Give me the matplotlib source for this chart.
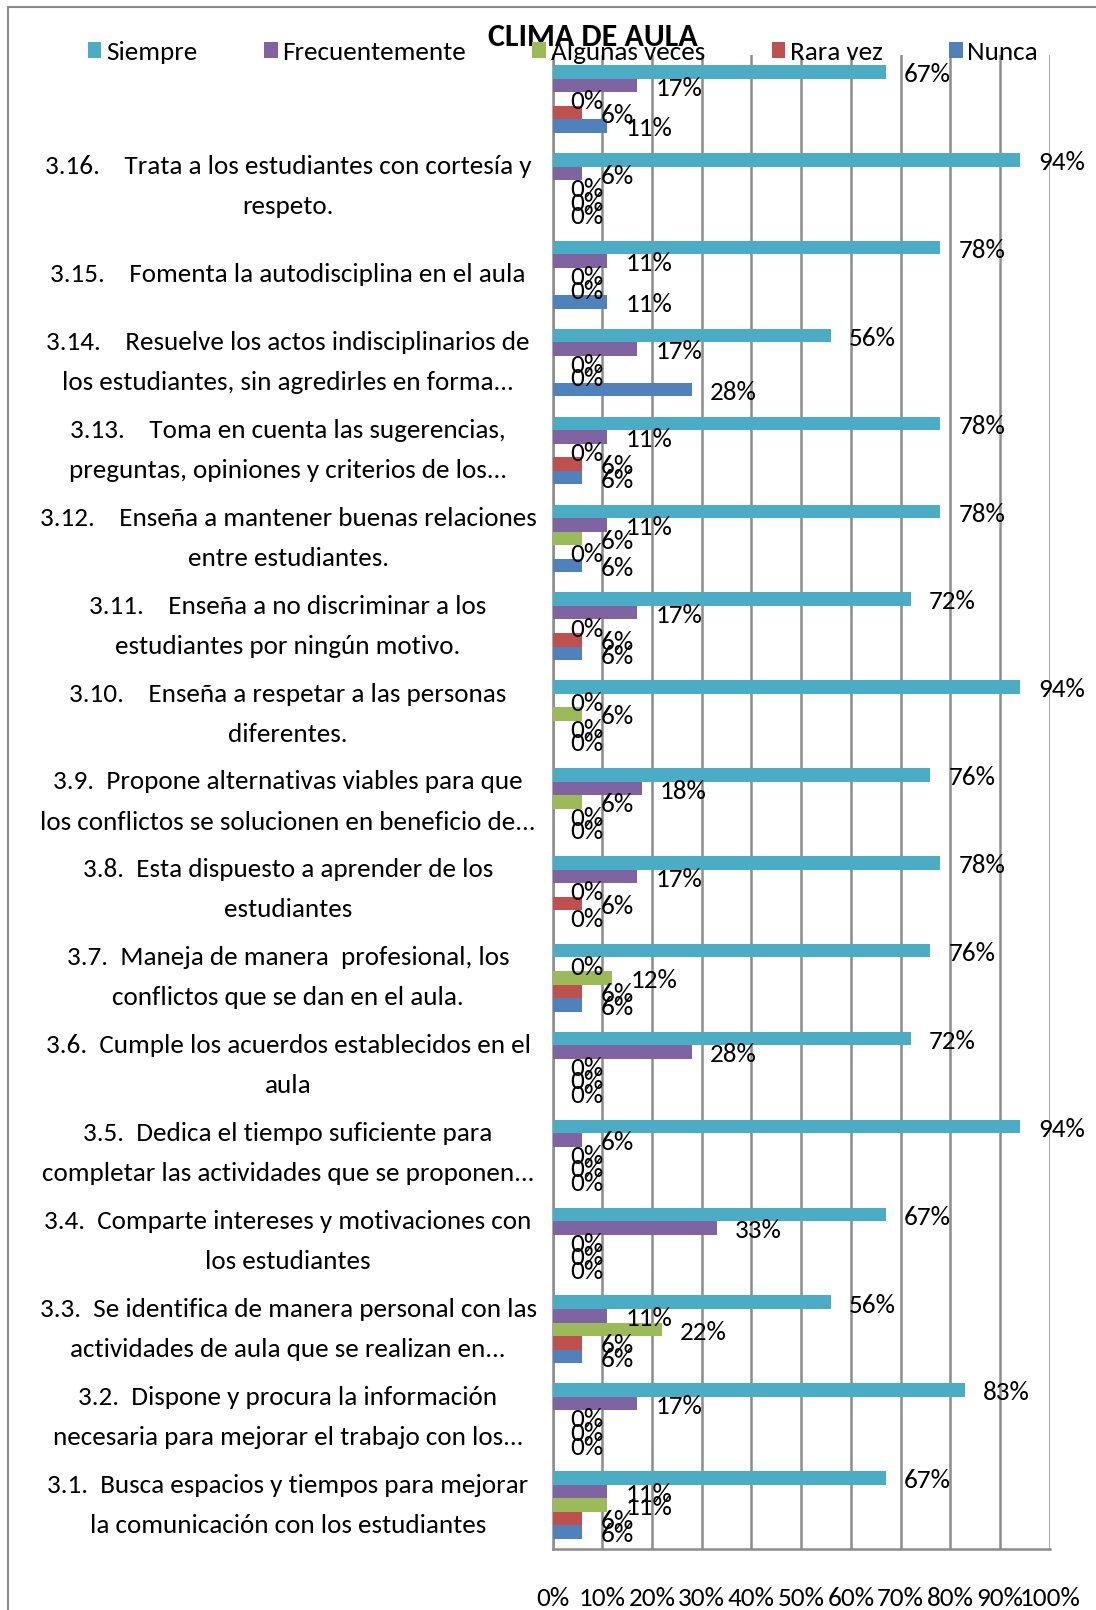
import matplotlib
matplotlib.use("Agg")
import matplotlib.pyplot as plt
from matplotlib.patches import Rectangle
from matplotlib.transforms import blended_transform_factory
import numpy as np

# Calibri-like font first, then fallbacks
plt.rcParams["font.family"] = ["Carlito", "Liberation Sans Narrow", "Roboto Condensed", "DejaVu Sans"]

# categories from bottom to top
categories = [
    "3.1.  Busca espacios y tiempos para mejorar\nla comunicación con los estudiantes",
    "3.2.  Dispone y procura la información\nnecesaria para mejorar el trabajo con los...",
    "3.3.  Se identifica de manera personal con las\nactividades de aula que se realizan en...",
    "3.4.  Comparte intereses y motivaciones con\nlos estudiantes",
    "3.5.  Dedica el tiempo suficiente para\ncompletar las actividades que se proponen...",
    "3.6.  Cumple los acuerdos establecidos en el\naula",
    "3.7.  Maneja de manera  profesional, los\nconflictos que se dan en el aula.",
    "3.8.  Esta dispuesto a aprender de los\nestudiantes",
    "3.9.  Propone alternativas viables para que\nlos conflictos se solucionen en beneficio de...",
    "3.10.    Enseña a respetar a las personas\ndiferentes.",
    "3.11.    Enseña a no discriminar a los\nestudiantes por ningún motivo.",
    "3.12.    Enseña a mantener buenas relaciones\nentre estudiantes.",
    "3.13.    Toma en cuenta las sugerencias,\npreguntas, opiniones y criterios de los...",
    "3.14.    Resuelve los actos indisciplinarios de\nlos estudiantes, sin agredirles en forma...",
    "3.15.    Fomenta la autodisciplina en el aula",
    "3.16.    Trata a los estudiantes con cortesía y\nrespeto.",
    "",
]

siempre        = [67, 83, 56, 67, 94, 72, 76, 78, 76, 94, 72, 78, 78, 56, 78, 94, 67]
frecuentemente = [11, 17, 11, 33,  6, 28,  0, 17, 18,  0, 17, 11, 11, 17, 11,  6, 17]
algunas_veces  = [11,  0, 22,  0,  0,  0, 12,  0,  6,  6,  0,  6,  0,  0,  0,  0,  0]
rara_vez       = [ 6,  0,  6,  0,  0,  0,  6,  6,  0,  0,  6,  0,  6,  0,  0,  0,  6]
nunca          = [ 6,  0,  6,  0,  0,  0,  6,  0,  0,  0,  6,  6,  6, 28, 11,  0, 11]

series_names = ["Siempre", "Frecuentemente", "Algunas veces", "Rara vez", "Nunca"]
series_vals = [siempre, frecuentemente, algunas_veces, rara_vez, nunca]
colors = ["#4BACC6", "#8064A2", "#9BBB59", "#C0504D", "#4F81BD"]

W, H = 1096, 1610
fig = plt.figure(figsize=(W / 100, H / 100), dpi=100)
ax = fig.add_axes([552.6 / W, 61 / H, (1049.8 - 552.6) / W, (1549 - 55) / H])

FS = 19.5
y = np.arange(len(categories))
h = 0.154
offsets = [2, 1, 0, -1, -2]

for name, vals, col, off in zip(series_names, series_vals, colors, offsets):
    yy = y + off * h
    ax.barh(yy, vals, height=h, color=col, edgecolor="none", label=name, zorder=3)
    for v, yi in zip(vals, yy):
        ax.annotate(f"{v}%", (v, yi), xytext=(13, -2), textcoords="offset points",
                    ha="left", va="center", fontsize=FS, zorder=4)

ax.set_xlim(0, 100)
ax.set_ylim(-0.5, len(categories) - 0.5)
ax.set_xticks(np.arange(0, 101, 10))
ax.set_xticklabels([f"{t}%" for t in range(0, 101, 10)], fontsize=FS)
ax.tick_params(axis="x", length=0, pad=27)
ax.set_yticks([])
ax.grid(axis="x", color="#8c8c8c", linewidth=1.8, zorder=0)
for s in ["top", "right"]:
    ax.spines[s].set_visible(False)
for s in ["left", "bottom"]:
    ax.spines[s].set_color("#8c8c8c")
    ax.spines[s].set_linewidth(1.8)

# category labels, centred block left of the axis
trans = blended_transform_factory(fig.transFigure, ax.transData)
for yi, lab in zip(y, categories):
    ax.text(288 / W, yi, lab, transform=trans, ha="center", va="center",
            multialignment="center", fontsize=FS, linespacing=1.9)

fig.text(593 / W, 1 - 37 / H, "CLIMA DE AULA", ha="center", va="center",
         fontsize=23, fontweight="bold")

fig.legend(loc="center", bbox_to_anchor=(563 / W, 1 - 52 / H), ncol=5, frameon=False,
           fontsize=FS, handlelength=0.5, handleheight=0.5, handletextpad=0.18,
           columnspacing=2.45, borderpad=0, borderaxespad=0)

# outer chart border
fig.patches.append(Rectangle((8 / W, -0.1), 2, 1.1 - 7 / H, transform=fig.transFigure,
                             fill=False, edgecolor="#8c8c8c", linewidth=1.5))

fig.savefig("out.png", dpi=100)
